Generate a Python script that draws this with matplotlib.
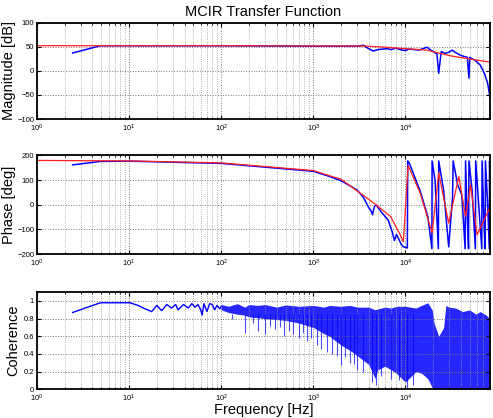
import matplotlib
matplotlib.use("Agg")
import matplotlib.pyplot as plt

plt.rcParams['font.family'] = ['Liberation Sans', 'DejaVu Sans']
plt.rcParams['mathtext.fontset'] = 'dejavusans'

# --- magnitude [dB] ---
mag_freq = [2.44, 4.88, 10, 100, 1000, 3000, 3500, 3900, 4500, 5000, 5600, 6300, 7000,
            7800, 8500, 9200, 1.0e4, 1.1e4, 1.25e4, 1.4e4, 1.55e4, 1.72e4, 1.85e4, 2.0e4,
            2.2e4, 2.3e4, 2.45e4, 2.7e4, 3.0e4, 3.2e4, 3.5e4, 3.9e4, 4.3e4, 4.7e4, 4.9e4,
            5.0e4, 5.2e4, 5.7e4, 6.5e4, 7.2e4, 7.8e4, 8.3e4]
mag_meas = [37, 52, 52, 52, 51, 51, 53, 47, 41, 44, 45, 46, 44, 47, 45, 43, 42, 45, 44,
            43, 46, 49, 44, 40, 35, -5, 40, 36, 39, 43, 38, 33, 30, 28, -15, 28, 26, 22,
            12, -5, -25, -55]
fit_freq = [1, 10, 100, 1000, 3500, 5000, 1.0e4, 1.7e4, 3.1e4, 8.3e4]
mag_fit = [52, 52, 52, 51.5, 51.5, 50, 46, 43, 31, 18]

# --- phase [deg] ---
ph_freq = [2.44, 4.88, 10, 100, 1000, 1500, 2000, 3000, 3500, 3800, 4000, 4200, 4400,
           4600, 4800, 5500, 6500, 7200, 7600, 8000, 8500, 9000, 9500, 1.05e4, 1.06e4,
           1.1e4, 1.45e4, 1.75e4, 1.94e4, 1.95e4, 2.1e4, 2.28e4, 2.3e4, 2.6e4, 2.95e4,
           3.25e4, 3.3e4, 3.7e4, 4.1e4, 4.45e4, 4.5e4, 4.7e4, 4.85e4, 4.9e4, 5.3e4,
           5.75e4, 5.8e4, 6.2e4, 6.75e4, 6.8e4, 7.1e4, 7.35e4, 7.4e4, 7.8e4, 8.15e4,
           8.2e4, 8.3e4]
ph_meas = [162, 176, 177, 168, 136, 115, 98, 60, 30, 5, -12, -22, -40, -8, 0, -30, -62,
           -110, -145, -120, -140, -160, -170, -175, 178, 170, 55, -47, -178, 178, 100,
           -178, 178, 60, -170, 30, 178, 80, 40, -178, 178, -60, -178, 178, 60, -178,
           178, 20, -178, 178, -50, -178, 178, 10, -178, 178, 60]
ph_fit_freq = [1, 10, 100, 1000, 1530, 2000, 3240, 4500, 6900, 8800, 9500, 1.07e4, 1.45e4,
               1.95e4, 2.3e4, 2.95e4, 3.8e4, 4.5e4, 5.1e4, 6.0e4, 8.3e4]
ph_fit = [180, 178, 170, 139, 117, 104, 47, 8, -47, -122, -150, 160, 47, -114, 130, -74,
          115, -47, 80, -122, -10]

# --- coherence ---
coh_lf_freq = [2.44, 4.88, 7.32, 10.2, 12.5, 15, 17.6, 20, 22.6, 25.7, 29, 32, 34, 39,
               44, 48, 52, 56, 60, 62, 65, 70, 75, 80, 85, 90, 97, 100]
coh_lf = [0.87, 0.98, 0.98, 0.98, 0.95, 0.91, 0.88, 0.95, 0.89, 0.96, 0.92, 0.96, 0.90,
          0.96, 0.92, 0.97, 0.93, 0.96, 0.90, 0.84, 0.97, 0.88, 0.97, 0.96, 0.90, 0.95,
          0.91, 0.94]
coh_hf_freq = [100, 120, 150, 180, 200, 250, 300, 400, 500, 700, 1000, 1300, 1500, 2000,
               2500, 3000, 4000, 4700, 5000, 6000, 7000, 8000, 1.0e4, 1.3e4, 1.5e4,
               1.75e4, 1.95e4, 2.05e4, 2.3e4, 2.6e4, 2.75e4, 3.0e4, 3.5e4, 4.2e4, 5.0e4,
               5.8e4, 6.5e4, 7.5e4, 8.3e4]
coh_hf_hi = [0.96, 0.94, 0.97, 0.93, 0.96, 0.95, 0.96, 0.93, 0.955, 0.94, 0.95, 0.93,
             0.95, 0.94, 0.95, 0.93, 0.93, 0.90, 0.91, 0.93, 0.92, 0.94, 0.94, 0.92,
             0.95, 0.98, 0.90, 0.75, 0.60, 0.70, 0.95, 0.93, 0.92, 0.88, 0.90, 0.85,
             0.88, 0.84, 0.80]
coh_hf_lo = [0.90, 0.87, 0.85, 0.84, 0.82, 0.81, 0.80, 0.79, 0.78, 0.75, 0.70, 0.63,
             0.60, 0.50, 0.44, 0.38, 0.28, 0.12, 0.22, 0.26, 0.22, 0.18, 0.08, 0.20,
             0.18, 0.12, 0.02, 0.0, 0.0, 0.0, 0.0, 0.0, 0.0, 0.0, 0.0, 0.0, 0.0, 0.0,
             0.0]
coh_spike_freq = [130, 180, 220, 250, 300, 340, 380, 430, 480, 540, 600, 700, 780, 850,
                  950, 1100, 1200, 1400, 1600, 1800, 2000, 2200, 2500, 2800, 3000, 3500,
                  4300, 4800, 5500, 7000, 8500, 1.05e4, 1.2e4]
coh_spike_min = [0.80, 0.64, 0.75, 0.66, 0.62, 0.72, 0.68, 0.70, 0.60, 0.66, 0.62, 0.58,
                 0.64, 0.55, 0.58, 0.50, 0.45, 0.42, 0.40, 0.38, 0.27, 0.36, 0.30, 0.28,
                 0.22, 0.20, 0.08, 0.05, 0.15, 0.12, 0.10, 0.0, 0.05]

xmin, xmax = 1, 8.3e4

fig = plt.figure(figsize=(4.93, 4.18), dpi=100)
ax1 = fig.add_axes([0.075, 0.715, 0.919, 0.231])
ax2 = fig.add_axes([0.075, 0.392, 0.919, 0.236])
ax3 = fig.add_axes([0.075, 0.069, 0.919, 0.232])

ax1.semilogx(mag_freq, mag_meas, color='#0000ff', lw=1.1)
ax1.semilogx(fit_freq, mag_fit, color='#ff2020', lw=0.9)
ax1.set_ylim(-100, 100)
ax1.set_yticks([-100, -50, 0, 50, 100])
ax1.set_ylabel('Magnitude [dB]', fontsize=10.5)
ax1.set_title('MCIR Transfer Function', fontsize=10.5, pad=5)

ax2.semilogx(ph_freq, ph_meas, color='#0000ff', lw=1.1)
ax2.semilogx(ph_fit_freq, ph_fit, color='#ff2020', lw=0.9)
ax2.set_ylim(-200, 200)
ax2.set_yticks([-200, -100, 0, 100, 200])
ax2.set_ylabel('Phase [deg]', fontsize=10.5)

ax3.fill_between(coh_hf_freq, coh_hf_lo, coh_hf_hi, color='#0000ff', alpha=0.85, lw=0)
ax3.vlines(coh_spike_freq, coh_spike_min, 0.85, color='#0000ff', alpha=0.7, lw=0.8)
ax3.semilogx(coh_lf_freq, coh_lf, color='#0000ff', lw=1.0)
ax3.set_ylim(0, 1.1)
ax3.set_yticks([0, 0.2, 0.4, 0.6, 0.8, 1])
ax3.set_yticklabels(['0', '0.2', '0.4', '0.6', '0.8', '1'])
ax3.set_ylabel('Coherence', fontsize=10.5)
ax3.set_xlabel('Frequency [Hz]', fontsize=10.5)

for ax in (ax1, ax2, ax3):
    ax.set_xscale('log')
    ax.set_xlim(xmin, xmax)
    ax.grid(True, which='major', color='#777777', ls=':', lw=0.7)
    ax.grid(True, which='minor', axis='x', color='#999999', ls=':', lw=0.6)
    ax.tick_params(which='both', direction='in', labelsize=5.5, top=True, right=True)
    ax.tick_params(axis='x', pad=2.5)
    ax.tick_params(axis='y', pad=2)
    ax.tick_params(which='major', length=3)
    ax.tick_params(which='minor', length=1.5)
    for s in ax.spines.values():
        s.set_linewidth(1.3)

ax1.yaxis.set_label_coords(-0.046, 0.5)
ax2.yaxis.set_label_coords(-0.046, 0.5)
ax3.yaxis.set_label_coords(-0.038, 0.5)
ax3.xaxis.set_label_coords(0.5, -0.145)

fig.savefig('out.png', dpi=100)
